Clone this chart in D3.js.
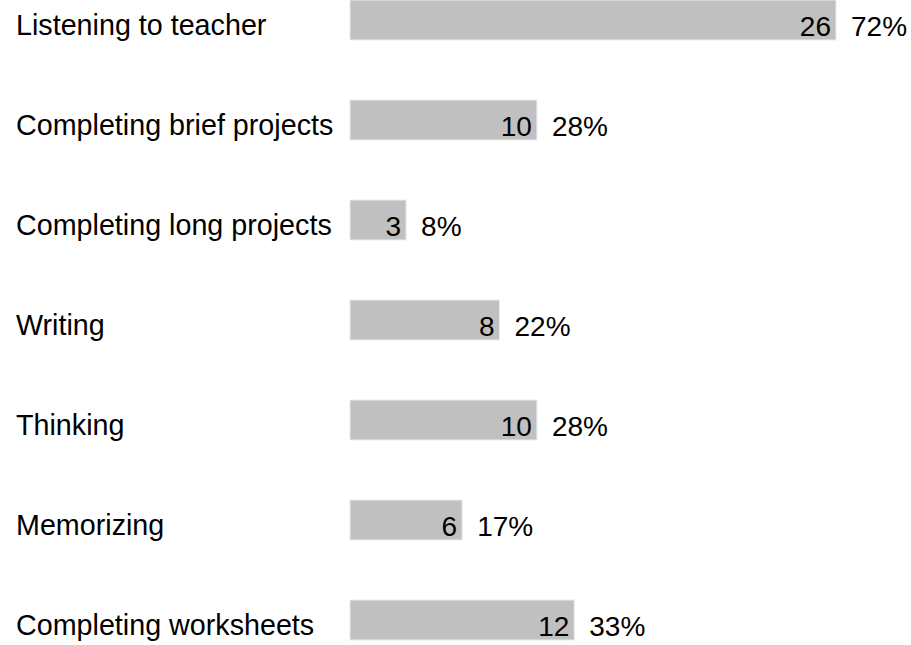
<!DOCTYPE html>
<html>
<head>
<meta charset="utf-8">
<script src="https://cdn.jsdelivr.net/npm/d3@7"></script>
<style>
  html, body { margin: 0; padding: 0; background: #fff; }
  svg { display: block; }
  text { font-family: Arial, "Liberation Sans", sans-serif; fill: #000; }
</style>
</head>
<body>
<script>
const categories = ["Listening to teacher", "Completing brief projects", "Completing long projects", "Writing", "Thinking", "Memorizing", "Completing worksheets"];
const counts = [26, 10, 3, 8, 10, 6, 12];
const percents = ["72%", "28%", "8%", "22%", "28%", "17%", "33%"];

const W = 911, H = 645;
const svg = d3.select("body").append("svg").attr("width", W).attr("height", H);

const x = d3.scaleLinear().domain([0, 26]).range([350, 836]);
const y = d3.scaleBand().domain(categories).range([-30, 670]).paddingInner(0.6).paddingOuter(0.3);
const data = categories.map((c, i) => ({ c, v: counts[i], p: percents[i] }));

const rows = svg.append("g").selectAll("g.row").data(data).enter().append("g").attr("class", "row");

rows.append("rect")
  .attr("x", x(0))
  .attr("y", d => y(d.c))
  .attr("width", d => x(d.v) - x(0))
  .attr("height", y.bandwidth())
  .attr("fill", "#c0c0c0")
  .attr("stroke", "#ececec")
  .attr("stroke-width", 1);

rows.append("text")
  .attr("x", 16)
  .attr("y", d => y(d.c) + y.bandwidth() - 5)
  .attr("font-size", 28.7)
  .text(d => d.c);

rows.append("text")
  .attr("x", d => x(d.v) - 5)
  .attr("y", d => y(d.c) + y.bandwidth() - 4)
  .attr("text-anchor", "end")
  .attr("font-size", 28)
  .text(d => d.v);

rows.append("text")
  .attr("x", d => x(d.v) + 15)
  .attr("y", d => y(d.c) + y.bandwidth() - 4)
  .attr("font-size", 28)
  .text(d => d.p);
</script>
</body>
</html>
